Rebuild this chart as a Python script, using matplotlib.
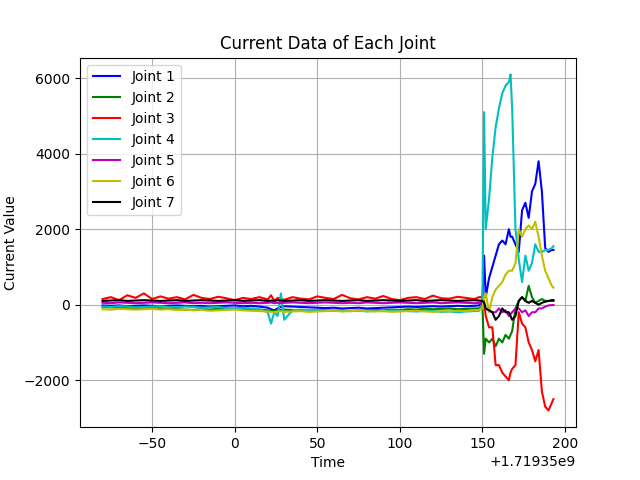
import matplotlib
matplotlib.use("Agg")
import matplotlib.pyplot as plt

offset = 1.71935e9
t_flat = [-80,-75,-70,-65,-60,-55,-50,-45,-40,-35,-30,-25,-20,-15,-10,-5,0,5,10,15,20,22,24,26,28,30,35,40,45,50,55,60,65,70,75,80,85,90,95,100,105,110,115,120,125,130,135,140,145,148]
t_act = [150,151,152,154,156,158,160,162,164,166,167,168,170,172,174,176,178,180,182,184,186,188,190,192,193]
time = t_flat + t_act

j1 = [-20,-30,-20,-40,-30,-20,-30,-40,-30,-20,-30,-40,-30,-50,-40,-30,-20,-40,-30,-50,-80,-120,-150,-100,-60,-40,-50,-60,-70,-80,-90,-80,-100,-90,-80,-100,-90,-80,-70,-60,-50,-60,-50,-40,-50,-40,-30,-40,-30,-20] + \
     [100,1300,200,700,1000,1300,1600,1700,1600,2000,1800,1800,1600,1400,2500,2700,2300,3000,3200,3800,3000,1500,1400,1450,1450]
j2 = [-60,-70,-80,-90,-100,-80,-90,-100,-110,-120,-130,-140,-120,-130,-110,-120,-100,-110,-120,-130,-150,-160,-170,-150,-140,-130,-140,-150,-160,-140,-150,-160,-150,-170,-160,-150,-140,-150,-130,-140,-120,-130,-110,-120,-110,-100,-120,-110,-100,-100] + \
     [0,-1300,-900,-1000,-900,-1100,-900,-1000,-800,-900,-800,-700,-100,100,200,100,500,200,50,100,150,100,100,100,100]
j3 = [150,200,120,250,180,300,150,220,160,200,140,260,180,150,210,170,120,180,150,200,140,250,100,180,150,130,200,160,140,220,180,150,260,170,140,200,160,230,150,120,180,200,150,240,170,160,210,180,150,200] + \
     [200,100,-300,-600,-600,-1600,-1600,-1800,-1900,-2000,-1800,-1700,-1600,-200,-500,-600,-1000,-1200,-1500,-1200,-2300,-2700,-2800,-2600,-2500]
j4 = [-50,-60,-40,-50,-70,-60,-50,-40,-60,-70,-50,-60,-80,-70,-60,-90,-100,-80,-100,-120,-200,-500,-200,-300,300,-400,-150,-130,-150,-140,-160,-150,-170,-160,-150,-180,-160,-170,-150,-160,-170,-180,-160,-170,-190,-180,-200,-180,-170,-160] + \
     [0,5100,2000,2800,3900,4700,5200,5600,5800,5900,6100,5200,2000,1200,600,1300,900,1100,1600,1400,1400,1450,1450,1500,1550]
j5 = [50,40,60,50,40,50,60,50,40,50,60,40,50,40,50,60,50,40,50,40,50,60,40,50,40,50,60,50,40,50,60,50,40,50,40,60,50,40,50,60,50,40,50,60,40,50,60,50,40,50] + \
     [0,-50,-100,-150,-200,-200,-100,-200,-150,-300,-250,-200,-100,-100,-200,-150,-300,-200,-200,-100,-100,-50,-20,-10,-10]
j6 = [-120,-130,-110,-120,-130,-120,-110,-130,-120,-140,-130,-150,-140,-160,-150,-140,-130,-150,-160,-170,-180,-190,-200,-180,-170,-190,-180,-170,-190,-180,-170,-160,-180,-170,-160,-170,-180,-170,-190,-180,-170,-160,-180,-190,-170,-180,-160,-170,-150,-140] + \
     [-100,200,300,-200,200,400,500,600,800,900,900,900,1100,2000,1800,2000,2100,2000,2200,1800,1300,900,700,500,450]
j7 = [100,110,120,100,110,120,110,100,110,120,100,110,120,110,100,110,120,100,110,120,100,110,100,120,110,100,110,120,100,110,120,110,100,110,120,100,110,120,110,100,110,120,100,110,120,110,100,110,120,110] + \
     [100,50,-100,-150,-200,-400,-300,-100,-200,-200,-300,-400,-300,100,200,100,50,100,50,0,50,80,100,120,120]

series = [j1, j2, j3, j4, j5, j6, j7]
colors = ['b', 'g', 'r', 'c', 'm', 'y', 'k']
labels = ['Joint 1', 'Joint 2', 'Joint 3', 'Joint 4', 'Joint 5', 'Joint 6', 'Joint 7']

fig, ax = plt.subplots(figsize=(6.4, 4.8), dpi=100)
x = [offset + v for v in time]
for s, c, l in zip(series, colors, labels):
    ax.plot(x, s, color=c, label=l)
ax.set_title('Current Data of Each Joint')
ax.set_xlabel('Time')
ax.set_ylabel('Current Value')
ax.grid(True)
ax.legend(loc='upper left')
fig.savefig('out.png')
